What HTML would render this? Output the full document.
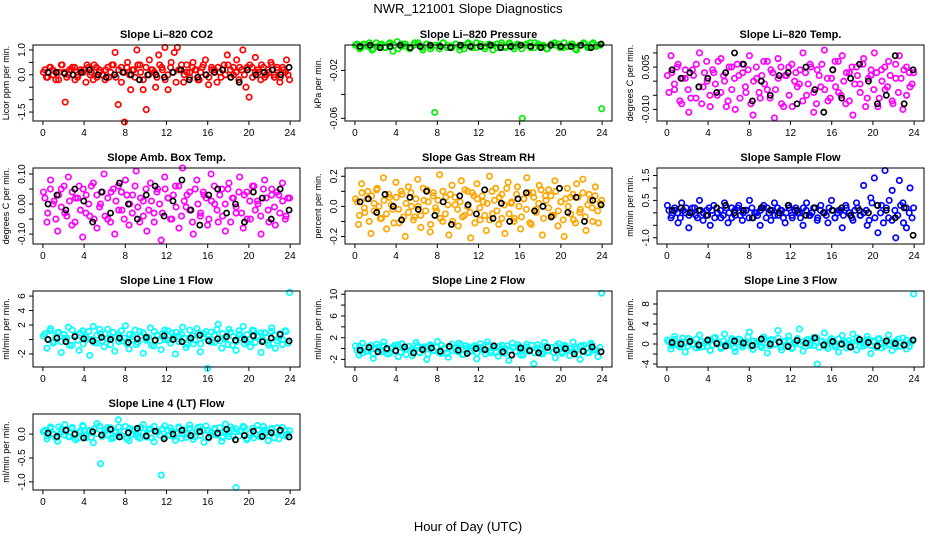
<!DOCTYPE html>
<html><head><meta charset="utf-8"><style>
body{margin:0;background:#fff}
svg{display:block;font-family:"Liberation Sans",Helvetica,sans-serif}
</style></head><body>
<svg id="chart" width="936" height="540" viewBox="0 0 936 540">
<text x="468" y="13" text-anchor="middle" font-size="13">NWR_121001  Slope Diagnostics</text>
<text x="468" y="531" text-anchor="middle" font-size="13">Hour of Day (UTC)</text>
</svg>
<script>
const xTicks=[0,4,8,12,16,20,24];
const co2Vals=[0.1,-0.1,0.3,0.2,-0.2,0.1,0.4,-1.1,0.0,0.2,0.3,-0.1,0.1,0.2,0.4,0.0,-0.2,0.3,0.1,0.0,0.2,-0.1,0.4,0.9,-1.2,0.3,-1.9,0.5,-0.6,0.2,1.0,0.4,-0.6,-1.4,0.6,0.2,-0.5,0.8,0.3,1.1,-0.6,0.5,0.9,1.1,0.2,-0.3,0.4,0.1,0.5,0.2,-0.2,0.3,0.6,-0.4,0.2,0.1,0.3,-0.1,0.4,0.8,0.2,0.0,0.6,0.3,1.0,-0.5,-0.9,0.3,0.7,0.1,0.4,-0.1,0.2,0.5,0.0,0.3,-0.1,0.2,0.6,-0.2];
const co2Band=[.2,-.1,.3,0,.1,-.2,.4,.1,-.1,.2,.3,-.2,0,.2,.1,-.3,.3,.1,.4,-.1,.2,0,-.2,.3,.1,.4,-.1,.2,-.3,.1,.3,0,.2,-.1,.4,.1,-.2,.3,0,.2,.1,-.1,.4,.2,-.2,0,.3,.1,-.3,.2,.4,0,.1,-.1,.3,.2,-.2,.1,.4,0,-.1,.3,.2,-.3,.1,.2,0,.4,-.1,.3,.1,-.2,.2,0,.3,.4,-.1,.1,.2,-.2,.3,0,.1,.4,-.1,.2,-.3,.3,.1,0];
const co2Black=[0.1,0.1,0.05,0.0,0.1,0.2,0.0,-0.1,0.0,0.1,0.0,-0.2,0.0,0.0,-0.1,0.1,0.2,-0.2,-0.1,0.0,0.1,0.2,-0.1,-0.3,0.2,0.0,0.1,0.2,0.0,0.3];
const pressVals=[0.001,-0.002,0.002,0.0,-0.003,0.003,0.001,-0.001,0.002,-0.004,0.004,0.0,0.002,-0.002,0.001,0.003,-0.001,0.002,-0.002,-0.055,0.001,0.003,-0.001,0.0,0.002,-0.003,0.001,0.002,-0.001,0.003,0.0,-0.002,0.002,0.001,-0.001,0.003,0.0,0.002,-0.002,0.001,-0.06,0.002,-0.001,0.003,0.0,0.001,-0.002,0.002,0.001,-0.001,0.003,0.0,0.002,-0.003,0.001,0.002,-0.001,0.003,0.001,-0.052];
const pressBand=[.002,-.001,.001,.003,-.002,0,.002,-.001,.003,.001,-.002,.002,0,-.001,.003,.001,-.003,.002,0,.001,-.002,.003,.001,-.001,.002,0,-.002,.003,.001,-.001,.002,0,.001,-.003,.002,.001,-.001,.003,0,.002,-.002,.001,.003,-.001,.002,0,-.002,.001,.003,.002,-.001,0,.002,-.002,.001,.003,-.001,.002,0,.001];
const pressBlack=[0.0,0.001,-0.001,0.0,0.001,-0.001,0.0,0.001,0.0,-0.001,0.001,0.0,0.0,0.001,-0.001,0.0,0.001,0.0,-0.001,0.001,0.0,0.0,0.001,-0.001,0.002];
const tempVals=[0.002,0.009,-0.003,0.006,-0.008,0.001,-0.011,0.004,-0.006,0.010,-0.002,0.007,-0.009,0.003,-0.005,0.008,0.000,-0.007,0.005,-0.010,0.002,0.006,-0.004,0.009,-0.012,0.001,-0.006,0.007,-0.003,0.004,-0.013,0.008,-0.008,0.002,0.005,-0.009,0.003,-0.001,0.010,-0.005,0.006,-0.011,0.004,-0.002,0.011,-0.007,0.001,0.007,-0.004,0.009,-0.008,0.003,-0.012,0.005,-0.001,0.008,-0.006,0.002,0.010,-0.009,0.004,-0.003,0.007,-0.007,0.001,0.009,-0.010,0.005,-0.002,0.003];
const tempBand=[-.004,.003,-.001,.005,-.007,.001,.004,-.003,-.006,.002,.006,-.002,-.008,.003,0,-.005,.004,-.001,.007,-.004,.002,-.009,.005,-.003,.001,.006,-.006,.003,-.002,.004,-.008,0,.005,-.004,.002,-.001,.007,-.006,.003,-.003,.001,.005,-.009,.002,-.005,.006,0,-.002,.004,-.007,.003,-.001,.005,-.004,-.008,.002,.006,-.003,.001,-.006,.004,-.002,.007,-.005,0,.003,-.007,.005,-.001,.002,-.004,.006,-.009,.001,.004,-.003,.003,-.006,0,.005,-.002,.002,-.008,.006,-.004,.001,.004,-.005,.003,-.001];
const tempBlack=[0.004,0.001,0.003,-0.002,0.001,-0.004,0.003,0.010,0.006,-0.007,0.000,-0.005,0.002,0.003,-0.008,0.005,-0.003,-0.011,0.004,-0.006,0.001,0.006,0.000,-0.008,-0.005,0.009,-0.008,0.004];
const ambVals=[0.04,-0.06,0.08,0.01,-0.09,0.05,-0.03,0.09,-0.07,0.02,0.06,-0.11,0.03,-0.04,0.07,-0.08,0.00,0.10,-0.05,0.04,-0.10,0.06,-0.02,0.08,-0.07,0.03,0.11,-0.06,0.01,-0.09,0.07,-0.03,0.05,-0.12,0.09,0.02,-0.05,0.06,-0.08,0.12,-0.01,0.04,-0.10,0.08,-0.04,0.03,-0.07,0.10,0.00,-0.06,0.05,-0.09,0.07,0.02,-0.03,0.09,-0.08,0.04,-0.05,0.06,0.01,-0.10,0.08,-0.02,0.05,-0.07,0.03,0.07,-0.04,0.02];
const ambBand=[.02,-.03,.05,0,-.05,.03,-.01,.06,-.04,.01,.04,-.06,.02,-.02,.05,-.03,0,.06,-.05,.03,-.01,.04,-.04,.02,-.06,.05,.01,-.02,.04,-.05,.03,0,-.03,.06,-.01,.02,-.04,.05,-.02,.01,-.06,.04,0,-.03,.05,.02,-.05,.03,-.01,.06,-.04,.01,.03,-.02,-.06,.05,0,-.03,.04,.02,-.05,.01,.06,-.02,.03,-.04,0,.05,-.06,.02,-.01,.04,-.03,.03,-.05,.01,.06,-.02,0,-.04,.05,.02,-.06,.03,-.01,.04,-.03,.01,-.05,.02];
const ambBlack=[0.00,0.03,-0.02,0.05,0.01,-0.06,0.04,-0.03,0.07,0.00,-0.05,0.03,0.06,-0.04,0.01,0.08,-0.02,-0.07,0.03,0.05,-0.03,0.00,-0.06,0.04,0.02,-0.05,0.05,-0.02];
const rhVals=[0.05,-0.12,0.15,-0.04,0.10,-0.18,0.02,0.12,-0.08,0.19,-0.15,0.06,-0.02,0.16,-0.11,0.08,-0.20,0.13,0.00,-0.07,0.18,-0.14,0.04,0.11,-0.17,0.09,-0.03,0.21,-0.10,0.06,-0.19,0.14,0.01,-0.13,0.17,-0.06,0.10,-0.21,0.07,0.15,-0.09,0.03,-0.16,0.20,-0.05,0.12,-0.12,0.08,-0.18,0.16,0.02,-0.08,0.13,-0.15,0.05,0.19,-0.11,0.09,-0.02,0.14,-0.19,0.07,0.11,-0.06,0.17,-0.13,0.03,-0.20,0.12,0.06,-0.09,0.15,-0.04,0.18,-0.16,0.08,-0.01,0.13,-0.11,0.04];
const rhBand=[.03,-.06,.09,-.01,.05,-.10,.07,-.03,.11,0,-.08,.04,-.05,.08,.01,-.11,.06,-.02,.10,-.07,.02,-.04,.09,-.09,.05,0,-.06,.12,-.03,.03,-.12,.07,-.01,.04,-.08,.10,-.05,.01,.08,-.10,.06,-.02,.03,-.07,.11,0,-.04,.09,-.11,.05,-.01,.07,-.06,.02,-.09,.10,.04,-.03,.06,-.08,.01,.12,-.05,.03,-.10,.08,0,-.07,.05,-.02,.09,-.12,.06,-.04,.02,.11,-.08,.04,-.01,.07,-.06,.10,-.03,.03,-.09,.05,0,-.05,.08,-.11,.06,-.02,.09,-.07,.01,.04,-.10,.07,-.03,.02];
const rhBlack=[0.03,0.05,-0.04,0.08,0.00,-0.09,0.06,-0.02,0.10,-0.06,0.03,-0.12,0.07,0.01,-0.05,0.11,-0.08,0.02,-0.10,0.05,0.09,-0.03,0.00,-0.07,0.12,-0.04,0.06,-0.10,0.04,0.01];
const flowVals=[0.3,-0.2,0.1,-0.4,0.4,0.0,-0.6,0.2,-0.1,0.5,-0.3,0.1,-0.5,0.3,0.0,-0.2,0.4,-0.4,0.2,-0.1,0.3,-0.3,0.1,0.5,-0.2,0.0,-0.5,0.3,0.2,-0.3,0.4,-0.1,0.1,-0.4,0.3,-0.2,0.2,0.0,-0.5,0.4,-0.1,0.2,-0.3,0.3,0.0,-0.4,0.5,-0.2,0.1,-0.6,0.3,0.0,-0.3,0.4,-0.1,1.1,-0.5,0.6,1.4,-0.8,0.3,1.7,-0.2,0.9,-1.0,1.3,0.4,-0.6,1.0,0.2];
const flowBand=[.1,-.1,.2,0,-.2,.1,.2,-.1,0,.2,-.2,.1,.0,-.1,.2,.1,-.2,0,.1,-.1,.2,0,-.2,.1,.2,-.1,0,.1,-.2,.2,0,-.1,.1,.2,-.2,0,.1,-.1,.2,.1,-.2,0,.2,-.1,.1,0,-.2,.2,.1,-.1,0,.2,-.2,.1,0,-.1,.2,.1,-.2,0,.1,-.1,.2,0,-.2,.1,.2,-.1,0,.1,-.3,.4,-.2,.3,0,-.4,.2,.5,-.3,.1,-.1,.3,-.4,.2,0,-.2];
const flowBlack=[0.1,0.2,0.0,0.1,-0.1,0.2,0.3,0.0,0.1,-0.2,0.2,0.1,0.0,0.3,0.1,-0.1,0.2,0.0,0.1,0.2,-0.1,0.1,0.0,0.3,0.1,-0.2,0.2,-0.9];
const l1Vals=[0.5,-1.2,1.5,-0.3,0.9,-1.8,0.2,1.7,-0.8,0.6,-1.5,1.2,0.0,-2.2,1.8,-0.5,0.8,-1.0,1.4,0.3,-1.6,0.7,-0.2,1.9,-1.3,0.4,-0.7,1.1,-1.9,0.1,1.6,-0.9,0.6,-1.4,1.3,-0.1,0.9,-2.0,0.5,1.7,-1.1,0.2,-0.6,1.5,-1.7,0.8,-4.0,1.0,-0.4,2.1,-1.2,0.3,1.4,-0.8,-1.5,0.7,1.8,-0.3,-1.0,1.2,0.4,-1.8,0.9,-0.5,1.6,-1.2,0.2,-0.7,1.1,6.5];
const l1Band=[.8,0,1.2,-.5,.4,1.0,-.3,.7,.2,-.8,1.3,.5,-.1,.9,-.6,.3,1.1,0,-.4,.6,1.4,-.2,.8,.1,-.7,1.0,.4,-.3,1.2,.2,-.6,.7,0,1.3,-.4,.5,.9,-.1,.3,-.8,1.1,.6,-.2,.8,0,1.2,-.5,.4,1.0,-.3,.7,.2,-.7,1.3,.5,-.1,.9,-.6,.3,1.1,0,-.4,.6,1.4,-.2,.8,.1,-.7,1.0,.4,-.3,1.2,.2,-.6,.7,0,1.3,-.4,.5,.9,-.1,.3,-.8,1.1,.6,-.2,.8,0,1.2,-.5];
const l1Black=[0.0,0.2,-0.3,0.4,0.1,-0.2,0.3,0.0,0.2,-0.4,0.1,0.3,-0.1,0.5,0.0,-0.3,0.2,0.6,-0.2,0.1,0.4,-0.1,0.0,0.5,-0.3,0.2,0.7,-0.2];
const l2Vals=[0.5,-1.2,1.0,-0.5,0.2,-1.8,0.8,-0.3,1.2,-1.0,0.0,0.6,-1.5,0.9,-0.2,0.4,-1.3,1.1,-0.7,0.3,-2.0,0.7,-0.4,1.3,-0.9,0.1,-1.6,0.8,-0.1,1.0,-1.1,0.5,-0.6,0.2,-1.9,0.9,-0.3,1.2,-0.8,0.4,-1.4,0.6,0.0,-2.2,1.0,-0.5,0.3,-1.2,0.8,-0.2,-2.8,0.7,-0.9,1.1,-0.4,0.2,-1.7,0.9,-0.6,0.4,-1.3,1.2,-0.1,-2.0,0.6,-0.8,1.0,-0.3,-1.5,10.2];
const l2Band=[-.3,.4,-.8,.1,-.5,.6,-1.0,0,.3,-.6,.5,-.2,-.9,.2,-.4,.7,-.7,.1,-1.1,.4,-.1,-.5,.6,-.8,0,.3,-1.0,.5,-.3,.2,-.7,.6,-.1,-.9,.4,-.4,.1,-.6,.7,-1.1,0,.3,-.5,.5,-.8,.2,-.2,-1.0,.6,-.4,.1,-.7,.4,-.1,-.9,.5,-.3,.2,-.6,.7,-1.2,0,.3,-.5,.6,-.8,.1,-.2,-1.0,.4,-.4,.2,-.7,.5,-.1,-.9,.6,-.3,0,-.6,.3,-1.1,.5,-.5,.1,-.8,.7,-.2,-.4,.2];
const l2Black=[-0.3,0.2,-0.6,0.0,-0.4,0.3,-0.8,-0.2,0.1,-0.5,0.4,-0.3,-0.9,0.0,-0.2,0.5,-0.6,-1.2,0.1,-0.4,-0.8,0.2,-0.3,0.0,-1.0,-0.5,0.3,-0.6];
const l3Vals=[0.8,-1.0,1.5,-0.3,0.4,-1.6,1.1,0.0,-0.8,1.8,-0.5,0.6,-1.3,1.2,0.2,-0.9,2.0,-0.2,0.7,-1.5,1.0,-0.6,0.3,2.4,-1.1,0.5,-0.4,1.4,-1.8,0.9,-0.1,2.7,-1.2,0.6,1.6,-0.7,0.2,3.0,-1.4,0.8,-0.3,1.3,-4.0,0.5,2.2,-0.9,1.1,-0.2,-1.6,1.7,0.3,-0.6,2.0,-1.2,0.7,-0.4,1.5,-1.9,0.4,1.0,-0.8,0.2,1.8,-1.3,0.6,-0.5,1.2,-1.0,0.3,10.0];
const l3Band=[.4,-.3,.9,0,-.6,1.2,.2,-.4,.7,-.1,1.0,-.7,.5,.1,-.5,.8,-.2,1.3,.3,-.6,.6,0,-.3,1.1,-.8,.4,.9,-.2,.1,1.4,-.5,.6,-.1,.3,-.7,1.0,.2,-.4,.8,0,1.2,-.6,.5,-.2,.7,-.9,.3,1.1,-.1,.4,-.5,.9,.1,-.3,1.3,-.7,.6,0,-.4,.8,.2,-.6,1.0,-.1,.5,-.8,.7,.3,-.2,1.2,-.5,.4,0,.9,-.3,.6,-.7,1.1,.1,-.4,.7,-.1,.3,-.6,1.0,.2,-.2,.8,-.5,.5];
const l3Black=[0.3,0.0,0.5,-0.2,0.8,0.1,-0.4,0.6,0.2,-0.3,1.0,0.0,0.4,-0.5,0.7,0.2,1.2,-0.2,0.5,0.0,-0.6,0.9,0.3,-0.4,0.6,0.1,-0.2,0.8];
const l4Vals=[0.05,-0.10,0.15,0.00,-0.15,0.10,0.20,-0.05,0.12,-0.12,0.03,0.18,-0.08,0.08,-0.18,0.22,-0.62,0.02,0.14,-0.10,0.06,0.30,-0.04,0.16,-0.14,0.09,0.00,-0.09,0.20,-0.06,0.11,-0.16,0.04,-0.86,0.17,-0.02,0.07,-0.13,0.13,0.01,-0.07,0.19,-0.11,0.05,0.15,-0.17,0.08,-0.03,0.12,0.00,-0.15,0.21,-0.05,0.10,-1.12,0.06,0.16,-0.12,0.03,-0.08,0.18,-0.01,0.09,-0.14,0.12,0.04,-0.10,0.14,-0.04,0.07];
const l4Band=[.08,-.04,.12,0,-.08,.15,.04,-.02,.10,-.06,.14,.02,-.09,.07,.16,-.03,.05,-.07,.11,.01,.17,-.05,.09,-.01,.13,-.08,.03,.15,-.04,.06,-.10,.12,0,.08,-.06,.14,.02,-.03,.10,-.08,.16,.05,-.02,.11,-.07,.07,.13,-.05,.01,.15,-.09,.09,-.01,.12,.03,-.06,.14,-.03,.08,.17,-.08,.04,.10,-.02,.13,-.07,.06,.01,.15,-.05,.11,-.04,.07,.14,-.09,.02,.12,-.01,.09,-.06,.16,.03,-.03,.10,-.08,.13,.05,-.02,.08,0];
const l4Black=[0.02,-0.05,0.08,0.00,-0.08,0.05,-0.02,0.10,-0.06,0.03,0.12,-0.04,0.06,-0.10,0.00,0.08,-0.03,0.05,-0.07,0.02,0.10,-0.12,-0.03,0.06,-0.05,0.03,0.08,-0.06];

const panels=[
 {name:'li820-co2',title:'Slope Li\u2013820 CO2',ylab:'Licor ppm per min.',c:0,r:0,top:1.2,bot:-1.86,col:'#ff0000',vals:co2Vals,band:co2Band,blk:co2Black,
  ticks:[1,0.5,0,-0.5,-1,-1.5],labels:['1.0','','0.0','','','-1.5']},
 {name:'li820-pressure',title:'Slope Li\u2013820 Pressure',ylab:'kPa per min.',c:1,r:0,top:0.0012,bot:-0.0622,col:'#00ee00',vals:pressVals,band:pressBand,blk:pressBlack,
  ticks:[-0.02,-0.04,-0.06],labels:['-0.02','','-0.06']},
 {name:'li820-temp',title:'Slope Li\u2013820 Temp.',ylab:'degrees C per min.',c:2,r:0,top:0.0128,bot:-0.0141,col:'#ff00ff',vals:tempVals,band:tempBand,blk:tempBlack,
  ticks:[0.01,0.005,0,-0.005,-0.01],labels:['','0.005','','','-0.010']},
 {name:'amb-box-temp',title:'Slope Amb. Box Temp.',ylab:'degrees C per min.',c:0,r:1,top:0.12,bot:-0.133,col:'#ff00ff',vals:ambVals,band:ambBand,blk:ambBlack,
  ticks:[0.1,0.05,0,-0.05,-0.1],labels:['0.10','','0.00','','-0.10']},
 {name:'gas-stream-rh',title:'Slope Gas Stream RH',ylab:'percent per min.',c:1,r:1,top:0.255,bot:-0.25,col:'#ffa500',vals:rhVals,band:rhBand,blk:rhBlack,
  ticks:[0.2,0.1,0,-0.1,-0.2],labels:['0.2','','0.0','','-0.2']},
 {name:'sample-flow',title:'Slope Sample Flow',ylab:'ml/min per min.',c:2,r:1,top:1.8,bot:-1.25,col:'#0000ff',vals:flowVals,band:flowBand,blk:flowBlack,
  ticks:[1.5,1,0.5,0,-0.5,-1],labels:['1.5','','0.5','','','-1.0']},
 {name:'line1-flow',title:'Slope Line 1 Flow',ylab:'ml/min per min.',c:0,r:2,top:6.7,bot:-3.8,col:'#00ffff',vals:l1Vals,band:l1Band,blk:l1Black,
  ticks:[6,4,2,0,-2],labels:['6','4','2','','-2']},
 {name:'line2-flow',title:'Slope Line 2 Flow',ylab:'ml/min per min.',c:1,r:2,top:10.6,bot:-3.4,col:'#00ffff',vals:l2Vals,band:l2Band,blk:l2Black,
  ticks:[10,8,6,4,2,0,-2],labels:['10','','6','','2','','-2']},
 {name:'line3-flow',title:'Slope Line 3 Flow',ylab:'ml/min per min.',c:2,r:2,top:10.6,bot:-4.6,col:'#00ffff',vals:l3Vals,band:l3Band,blk:l3Black,
  ticks:[8,6,4,2,0,-2,-4],labels:['8','','4','','0','','-4']},
 {name:'line4-flow',title:'Slope Line 4 (LT) Flow',ylab:'ml/min per min.',c:0,r:3,top:0.42,bot:-1.17,col:'#00ffff',vals:l4Vals,band:l4Band,blk:l4Black,
  ticks:[0,-0.5,-1],labels:['0.0','-0.5','-1.0']}
];
const colX=[33,345,657], rowY=[45,168,291,414], W=267, H=76;
const svg=document.getElementById('chart');
const NS='http://www.w3.org/2000/svg';
function mk(tag,attrs,parent){const e=document.createElementNS(NS,tag);for(const k in attrs)e.setAttribute(k,attrs[k]);parent.appendChild(e);return e;}
panels.forEach(p=>{
  const x0=colX[p.c], y0=rowY[p.r];
  const g=mk('g',{},svg);
  
  
  const xs=v=>x0+W*(v+0.96)/25.92;
  const ys=v=>y0+H*(p.top-v)/(p.top-p.bot);
  const t=mk('text',{x:x0+W/2,y:y0-7,'text-anchor':'middle','font-size':11,'font-weight':'bold'},g);
  t.textContent=p.title;
  
  
  const yl=mk('text',{transform:`translate(${x0-24},${y0+H/2}) rotate(-90)`,'text-anchor':'middle','font-size':9},g);
  yl.textContent=p.ylab;
  
  
  const pts=mk('g',{fill:'none','stroke-width':1.7},g);
  
  
  p.band.forEach((v,i)=>{
    const c=mk('circle',{cx:xs(0.2+23.6*i/(p.band.length-1)),cy:ys(v),r:2.7,stroke:p.col},pts);
    
    
  });
  p.vals.forEach((v,i)=>{
    const c=mk('circle',{cx:xs(0.05+23.9*i/(p.vals.length-1)),cy:ys(v),r:2.7,stroke:p.col},pts);
    
    
  });
  const bp=mk('g',{fill:'none','stroke-width':1.7},g);
  
  
  p.blk.forEach((v,i)=>{
    const c=mk('circle',{cx:xs(0.5+23.4*i/(p.blk.length-1)),cy:ys(v),r:2.6,stroke:'#000'},bp);
    
    
  });
  const box=mk('rect',{x:x0,y:y0,width:W,height:H,fill:'none',stroke:'#000','stroke-width':1},g);
  
  
  xTicks.forEach(v=>{
    mk('line',{x1:xs(v),x2:xs(v),y1:y0+H,y2:y0+H+4,stroke:'#000'},g);
    const l=mk('text',{x:xs(v),y:y0+H+15,'text-anchor':'middle','font-size':10},g);
    l.textContent=v;
    
    
  });
  p.ticks.forEach((v,i)=>{
    mk('line',{x1:x0-4,x2:x0,y1:ys(v),y2:ys(v),stroke:'#000'},g);
    if(p.labels[i]){
      const l=mk('text',{transform:`translate(${x0-8},${ys(v)}) rotate(-90)`,'text-anchor':'middle','font-size':10},g);
      l.textContent=p.labels[i];
      
      
    }
  });
});
</script>
</body></html>
